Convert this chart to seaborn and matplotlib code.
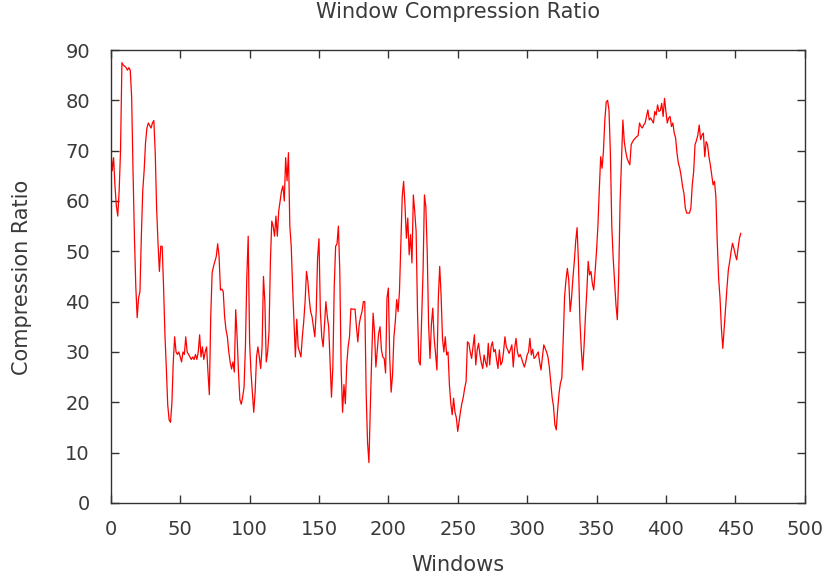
import matplotlib
matplotlib.use("Agg")
import matplotlib.pyplot as plt
import seaborn as sns
import pandas as pd

title = "Window Compression Ratio"
x_label = "Windows"
y_label = "Compression Ratio"
x_ticks = [0, 50, 100, 150, 200, 250, 300, 350, 400, 450, 500]
y_ticks = [0, 10, 20, 30, 40, 50, 60, 70, 80, 90]

ratio = [
    70.6, 66, 68.6, 63, 59, 57, 62, 70, 87.5, 87,
    86.8, 86.5, 86, 86.5, 86, 80.7, 66, 53, 43, 36.8,
    40.7, 42, 53, 62, 66, 71.5, 74.5, 75.5, 75, 74.5,
    75.5, 76, 69.6, 58.6, 51.7, 46, 51, 51, 43, 33.4,
    26.8, 19.5, 16.5, 16, 19.7, 28, 33, 30, 29.5, 30,
    29, 28, 30, 29.5, 33, 30, 29.5, 29, 28.5, 29,
    28.5, 29.5, 28.5, 30, 33.4, 29, 31, 28.5, 30, 31,
    26, 21.5, 37, 45.7, 47, 48, 49, 51.5, 49, 42.3,
    42.5, 42, 37, 34.4, 33, 30, 28, 26.6, 28, 26,
    38.4, 33, 26, 20.5, 19.6, 21, 23, 31, 45, 53,
    32, 26, 22, 18, 22, 29, 31, 29, 26.7, 31,
    45, 40, 28, 30, 34, 48, 56, 55, 53, 57,
    53, 58, 60, 62, 63, 60, 68.6, 64, 69.6, 55,
    51, 43, 36, 29, 36.5, 31, 30, 29, 33, 36,
    40, 46, 44, 40.5, 38, 37, 35, 33, 38, 48.7,
    52.5, 38, 33, 31, 35.5, 40, 37, 35, 28, 21,
    27, 43, 51, 51.5, 55, 46, 26.5, 18, 23.5, 19.7,
    27.5, 31, 33, 38.6, 38.5, 38.5, 38.5, 35, 32, 35.5,
    37, 38, 40, 40, 21.8, 12, 8, 19, 29, 37.7,
    34, 27, 30.4, 33.7, 35, 30.4, 29, 28.7, 25.8, 40.7,
    42.7, 28.7, 22, 25.4, 33, 36, 40.4, 38, 42, 51.3,
    60.9, 63.9, 59, 52.6, 56.6, 49.3, 53.3, 47.7, 61.2, 57.9,
    54, 38, 28.1, 27.4, 36.7, 46, 61.2, 58.9, 50, 35.4,
    28.7, 35.4, 38.7, 32.7, 29.7, 26.4, 40.7, 47, 41.3, 32.7,
    30, 33, 29.4, 30, 23.4, 19.8, 17.5, 20.8, 18, 16.9,
    14.2, 16.2, 18.2, 19.8, 21, 22.8, 24.1, 32, 31.7, 30,
    28.7, 31, 33.4, 27.4, 30.4, 31.7, 29.4, 27.8, 26.7, 29.4,
    28, 27, 31.7, 27.4, 31, 32, 30, 30.5, 28.4, 26.7,
    30.4, 27.4, 28, 30, 33, 31, 30.4, 29.7, 30.5, 31.4,
    27, 30.7, 32.7, 30, 29, 29.5, 28.7, 27.8, 27, 28,
    29.4, 30, 32.7, 29.4, 30.5, 28.7, 29, 29.5, 30, 28,
    26.4, 29, 31.4, 30.7, 30, 29, 27, 24.1, 21, 19.2,
    15.5, 14.5, 18.5, 21.8, 23.8, 24.8, 32.4, 41, 44.3, 46.6,
    44.3, 38, 40.7, 44.7, 48, 52, 54.7, 47.7, 36.4, 30.7,
    26.4, 31, 37, 42, 48, 45.3, 46, 43.6, 42.3, 46,
    50, 55, 62.2, 68.8, 66.5, 70, 76.1, 79.7, 80, 78,
    69.5, 55, 48.7, 44, 39.4, 36.4, 45.3, 59.9, 68.2, 76.1,
    71.8, 69.9, 68.5, 67.8, 67.2, 71.2, 71.8, 72.2, 72.5, 72.8,
    73, 75.5, 74.8, 74.5, 75.1, 75.5, 76.8, 78.1, 76.1, 76.5,
    76, 75.5, 77.8, 77.1, 79.1, 77.8, 78, 79.4, 76.8, 80.4,
    77.8, 75.5, 76.5, 76.8, 74.8, 75.5, 73.5, 72.5, 69.5, 67.5,
    66.5, 64.9, 62.9, 61.5, 58.6, 57.6, 57.6, 57.6, 58.6, 63.2,
    65.8, 71.2, 72, 73.1, 75.1, 72.2, 73.1, 73.5, 68.8, 71.8,
    71.2, 68.8, 67.2, 65.2, 63.2, 63.9, 60.9, 51.9, 44.6, 40.7,
    34.7, 30.7, 34.7, 38.7, 42.7, 46.3, 48, 50, 51.6, 50.6,
    49.3, 48.3, 50.6, 52.6, 53.6,
]
windows = list(range(len(ratio)))

sns.set_style("white")
plt.rcParams["font.family"] = ["DejaVu Sans"]

df = pd.DataFrame({"Windows": windows, "Ratio": ratio})

text_color = "#3a3a3a"
fig = plt.figure(figsize=(8.27, 5.82), dpi=100)
ax = fig.add_axes([0.134, 0.136, 0.839, 0.778])
sns.lineplot(data=df, x="Windows", y="Ratio", color="#ff0000", lw=0.9, ax=ax)

ax.set_xlim(0, 500)
ax.set_ylim(0, 90)
ax.set_xticks(x_ticks)
ax.set_yticks(y_ticks)
ax.tick_params(direction="in", length=6, width=1, colors="#333333",
               labelcolor=text_color, labelsize=14, top=True, right=True,
               bottom=True, left=True)
ax.tick_params(axis="x", pad=12)
ax.tick_params(axis="y", pad=15)
for s in ax.spines.values():
    s.set_color("#333333")
    s.set_linewidth(1)

ax.set_xlabel(x_label, fontsize=15, color=text_color)
ax.xaxis.set_label_coords(0.5, -0.137)
ax.xaxis.label.set_va("center")
ax.set_ylabel(y_label, fontsize=15, color=text_color)
ax.yaxis.set_label_coords(-0.128, 0.497)
ax.yaxis.label.set_va("center")
ax.yaxis.label.set_ha("center")

ax.text(0.5, 1.084, title, transform=ax.transAxes, ha="center", va="center",
        fontsize=15, color=text_color)
ax.set_facecolor("white")

fig.savefig("out.png", dpi=100)
